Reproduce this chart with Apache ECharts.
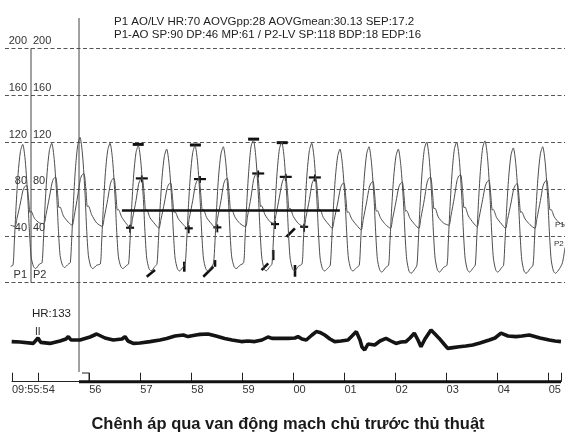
<!DOCTYPE html>
<html><head><meta charset="utf-8">
<script src="https://cdn.jsdelivr.net/npm/echarts@6/dist/echarts.min.js"></script>
<style>html,body{margin:0;padding:0;background:#fff}#c{width:565px;height:434px}</style>
</head><body><div id="c"></div>
<script>
// ---- data ----
const infoLine1 = 'P1 AO/LV HR:70 AOVGpp:28 AOVGmean:30.13 SEP:17.2';
const infoLine2 = 'P1-AO SP:90 DP:46 MP:61 / P2-LV SP:118 BDP:18 EDP:16';
const chartTitle = 'Chênh áp qua van động mạch chủ trước thủ thuật';
const hrLabel = 'HR:133';
const ecgLead = 'II';
const pressureTicks = [0, 40, 80, 120, 160, 200];
const startTime = 54.487;               // 09:55:54.x
const endTime = 65.241;
const tickTimes = [54.487, 55, 56, 57, 58, 59, 60, 61, 62, 63, 64, 65, 65.241];
const labelTimes = [54.487, 56, 57, 58, 59, 60, 61, 62, 63, 64, 65];
const cursorTime = 55.80;

// P1 – aortic pressure (mmHg), [time s, value]
const aoTrace = [
[54.46,49],
[54.544,48],[54.585,55],[54.652,68],[54.703,79],[54.737,82],[54.775,83],[54.815,70],[54.840,60],[54.860,61],[54.926,55],[55.024,51],
[55.112,50.5],[55.153,58],[55.220,73],[55.271,85],[55.305,89],[55.343,90],[55.383,75],[55.408,64],[55.428,64.5],[55.494,57],[55.592,51.5],
[55.666,49],[55.707,57],[55.774,74],[55.825,88],[55.859,92],[55.897,93],[55.937,78],[55.962,65],[55.982,65.5],[56.048,58],[56.146,51],
[56.254,48],[56.295,56],[56.362,71],[56.413,84],[56.447,88],[56.485,89],[56.525,74],[56.550,62],[56.570,62.5],[56.636,56],[56.734,50],
[56.808,46.5],[56.849,55],[56.916,70],[56.967,84],[57.001,88],[57.039,89],[57.079,74],[57.104,62],[57.124,62.5],[57.190,55.5],[57.288,50],
[57.364,46.5],[57.405,54],[57.472,68],[57.523,80],[57.557,84],[57.595,85],[57.635,71],[57.660,60],[57.680,60.5],[57.746,54.5],[57.844,49.5],
[57.919,46.5],[57.960,55],[58.027,70],[58.078,83],[58.112,87],[58.150,88],[58.190,73],[58.215,62],[58.235,62.5],[58.301,55.5],[58.399,50],
[58.473,46.5],[58.514,55],[58.581,70],[58.632,84],[58.666,88],[58.704,89],[58.744,74],[58.769,62],[58.789,62.5],[58.855,56],[58.953,50.5],
[59.061,47.7],[59.102,57],[59.169,73],[59.220,88],[59.254,92],[59.292,93],[59.332,78],[59.357,65],[59.377,65.5],[59.443,58],[59.541,52],
[59.617,50.6],[59.658,58],[59.725,73],[59.776,85],[59.810,89],[59.848,90],[59.888,75],[59.913,63],[59.933,63.5],[59.999,56.5],[60.097,50.5],
[60.205,47.7],[60.246,56],[60.313,71],[60.364,84.5],[60.398,88],[60.436,89.5],[60.476,74.5],[60.501,62],[60.521,62.5],[60.587,55.5],[60.685,50],
[60.759,46.4],[60.800,54],[60.867,68],[60.918,80],[60.952,84],[60.990,85],[61.030,71],[61.055,60],[61.075,60.5],[61.141,54.5],[61.239,49],
[61.327,45],[61.368,54],[61.435,69],[61.486,81.5],[61.520,85],[61.558,86.5],[61.598,72],[61.623,61],[61.643,61.5],[61.709,55],[61.807,49.5],
[61.901,46.4],[61.942,54.5],[62.009,69],[62.060,81],[62.094,84.5],[62.132,86],[62.172,71.5],[62.197,61],[62.217,61.5],[62.283,55],[62.381,49.5],
[62.457,46.4],[62.498,55.5],[62.565,71],[62.616,85],[62.650,89],[62.688,90],[62.728,75],[62.753,63],[62.773,63.5],[62.839,56],[62.937,51],
[63.045,49],[63.086,57],[63.153,73],[63.204,87],[63.238,91],[63.276,92],[63.316,77],[63.341,64],[63.361,64.5],[63.427,57],[63.525,51],
[63.599,47.7],[63.640,56],[63.707,71],[63.758,82.5],[63.792,86],[63.830,87.5],[63.870,73],[63.895,62],[63.915,62.5],[63.981,55.5],[64.079,50],
[64.154,46.4],[64.195,54],[64.262,68],[64.313,79.7],[64.347,83.2],[64.385,84.7],[64.425,70.5],[64.450,60],[64.470,60.5],[64.536,54.5],[64.634,49.5],
[64.730,46.4],[64.771,55],[64.838,70],[64.889,82.5],[64.923,86],[64.961,87.5],[65.001,73],[65.026,62],[65.046,62.5],[65.112,56],[65.210,51],
[65.32,49]
];

// P2 – left ventricular pressure (mmHg), [time s, value]
const lvTrace = [
[54.46,14],
[54.507,15],[54.532,34],[54.567,65],[54.607,93],[54.652,112],[54.697,118],[54.747,104],[54.797,72],[54.827,45],[54.862,22],[54.907,14],[54.947,12],[55.027,16],
[55.075,17],[55.100,34],[55.135,66],[55.175,94],[55.220,113],[55.265,119],[55.315,105],[55.365,73],[55.395,46],[55.430,23],[55.475,15],[55.515,13],[55.595,16],
[55.629,17],[55.654,35],[55.689,67],[55.729,97],[55.774,117],[55.819,124],[55.869,109],[55.919,75],[55.949,46],[55.984,23],[56.029,14],[56.069,12],[56.149,15],
[56.217,16],[56.242,34],[56.277,65],[56.317,94],[56.362,113],[56.407,119],[56.457,105],[56.507,72],[56.537,45],[56.572,22],[56.617,14],[56.657,12],[56.737,15],
[56.771,16],[56.796,33],[56.831,64],[56.871,92],[56.916,111],[56.961,117],[57.011,103],[57.061,71],[57.091,44],[57.126,21],[57.171,12],[57.211,10],[57.291,14],
[57.327,16],[57.352,33],[57.387,63],[57.427,90],[57.472,108],[57.517,114],[57.567,100],[57.617,70],[57.647,44],[57.682,21],[57.727,12],[57.767,10],[57.847,14],
[57.882,17],[57.907,34],[57.942,64],[57.982,92],[58.027,111],[58.072,117],[58.122,103],[58.172,71],[58.202,44],[58.237,21],[58.282,12],[58.322,10],[58.402,14],
[58.436,17],[58.461,33],[58.496,64],[58.536,92],[58.581,110],[58.626,116],[58.676,102],[58.726,71],[58.756,44],[58.791,22],[58.836,14],[58.876,12],[58.956,15],
[59.024,17],[59.049,35],[59.084,66],[59.124,95],[59.169,116],[59.214,122],[59.264,107],[59.314,74],[59.344,46],[59.379,22],[59.424,12],[59.464,10],[59.544,14],
[59.580,16],[59.605,34],[59.640,65],[59.680,94],[59.725,114],[59.770,120],[59.820,106],[59.870,73],[59.900,45],[59.935,21],[59.980,12],[60.020,10],[60.100,14],
[60.168,16],[60.193,34],[60.228,65],[60.268,94],[60.313,113],[60.358,119],[60.408,105],[60.458,72],[60.488,45],[60.523,21],[60.568,12],[60.608,10],[60.688,13],
[60.722,15],[60.747,33],[60.782,63],[60.822,90],[60.867,108],[60.912,114],[60.962,100],[61.012,70],[61.042,44],[61.077,21],[61.122,12],[61.162,10],[61.242,13],
[61.290,15],[61.315,33],[61.350,64],[61.390,91],[61.435,110],[61.480,116],[61.530,102],[61.580,71],[61.610,44],[61.645,20],[61.690,11],[61.730,9],[61.810,13],
[61.864,15],[61.889,33],[61.924,63],[61.964,90],[62.009,108],[62.054,114],[62.104,100],[62.154,70],[62.184,43],[62.219,20],[62.264,10],[62.304,8],[62.384,12],
[62.420,15],[62.445,34],[62.480,65],[62.520,94],[62.565,114],[62.610,120],[62.660,106],[62.710,73],[62.740,45],[62.775,21],[62.820,11],[62.860,9],[62.940,13],
[63.008,15],[63.033,34],[63.068,65],[63.108,94],[63.153,114],[63.198,120],[63.248,106],[63.298,73],[63.328,45],[63.363,21],[63.408,11],[63.448,9],[63.528,13],
[63.562,15],[63.587,34],[63.622,66],[63.662,95],[63.707,115],[63.752,121],[63.802,107],[63.852,73],[63.882,45],[63.917,21],[63.962,11],[64.002,9],[64.082,13],
[64.117,15],[64.142,33],[64.177,63],[64.217,90],[64.262,109],[64.307,115],[64.357,101],[64.407,70],[64.437,44],[64.472,20],[64.517,10],[64.557,8],[64.637,12],
[64.693,15],[64.718,33],[64.753,64],[64.793,91],[64.838,110],[64.883,116],[64.933,102],[64.983,71],[65.013,44],[65.048,20],[65.093,10],[65.133,8],[65.213,12],
[65.27,17],[65.32,30]
];

// measurement markers (mmHg)
const lvPeakMarks = [[56.96,118],[58.08,117.5],[59.22,122.5],[59.78,119.5]];
const aoPeakMarks = [[57.03,89],[58.17,88.4],[59.31,93.2],[59.85,90.3],[60.42,89.8]];
const aoMinMarks  = [[56.80,46.9],[57.95,46.4],[58.51,47.2],[59.64,50],[60.21,47.7]];
const edpMarks = [[57.126,5.1,57.288,10.8],[57.862,17.9,57.862,9.4],[58.234,5.1,58.430,13.6],[58.464,19.3,58.464,13.6],
                  [59.377,10.8,59.506,16.5],[59.604,27.9,59.604,19.3],[59.866,39.2,60.029,46.4],[60.031,15.1,60.031,5.1]];
const meanLine = [[56.64,61.6],[60.91,61.6]];

// ECG lead II (mV), [time s, value]
const ecgTrace = [
[54.481,-0.08],[54.644,-0.10],[54.904,-0.17],[54.996,0.10],[55.05,-0.12],[55.231,-0.17],[55.427,-0.05],[55.545,0.05],[55.590,0.17],[55.643,0],
[55.819,0],[56.015,0.15],[56.146,0.30],[56.309,0.10],[56.471,0],[56.642,0.05],[56.701,0.17],[56.759,-0.05],[56.863,-0.17],[56.994,-0.15],
[57.190,-0.08],[57.386,0],[57.517,0.08],[57.680,0.20],[57.843,0.25],[57.935,0.17],[58.091,0.25],[58.170,0.28],[58.326,0.30],[58.483,0.20],
[58.654,0.08],[58.797,0],[58.979,-0.08],[59.110,-0.05],[59.241,-0.08],[59.384,0],[59.502,0.15],[59.535,0.25],[59.580,0.08],[59.737,0.08],
[59.894,0.08],[60.031,0.10],[60.090,0.17],[60.168,0.05],[60.252,0],[60.364,0.25],[60.448,0.42],[60.520,0.38],[60.613,0.25],[60.716,0.05],
[60.809,-0.08],[60.932,-0.05],[61.069,0],[61.147,0.20],[61.232,0.42],[61.304,0],[61.343,-0.35],[61.396,-0.50],[61.461,-0.20],[61.592,-0.25],
[61.696,-0.05],[61.813,0.08],[61.911,-0.05],[62.009,-0.17],[62.107,-0.10],[62.205,-0.08],[62.283,0.10],[62.368,0.34],[62.440,0],[62.499,-0.34],
[62.577,0.05],[62.695,0.50],[62.773,0.30],[62.857,0.08],[62.949,-0.20],[63.022,-0.42],[63.125,-0.38],[63.249,-0.34],[63.380,-0.30],[63.512,-0.25],
[63.655,-0.15],[63.837,0],[63.949,0.10],[64.066,0.34],[64.203,0.20],[64.360,0.17],[64.477,0.20],[64.620,0.25],[64.830,0.10],[65.012,0],
[65.124,-0.05],[65.241,-0.08]
];

// ---- chart ----
const FONT = '"Liberation Sans", Arial, Helvetica, sans-serif';
const chart = echarts.init(document.getElementById('c'), null, {renderer:'canvas'});
function pad2(v){ const s = String(Math.round(v) % 60); return s.length < 2 ? '0' + s : s; }

function barItem(halfW, lw){
  return function(params, api){
    const p = api.coord([api.value(0), api.value(1)]);
    return {type:'line', shape:{x1:p[0]-halfW, y1:p[1], x2:p[0]+halfW, y2:p[1]}, style:{stroke:'#111', lineWidth:lw}};
  };
}
function crossItem(halfW, up, down){
  return function(params, api){
    const p = api.coord([api.value(0), api.value(1)]);
    return {type:'group', children:[
      {type:'line', shape:{x1:p[0]-halfW, y1:p[1], x2:p[0]+halfW, y2:p[1]}, style:{stroke:'#111', lineWidth:2.2}},
      {type:'line', shape:{x1:p[0], y1:p[1]-up, x2:p[0], y2:p[1]+down}, style:{stroke:'#111', lineWidth:1.8}}
    ]};
  };
}
function segItem(params, api){
  const a = api.coord([api.value(0), api.value(1)]);
  const b = api.coord([api.value(2), api.value(3)]);
  return {type:'line', shape:{x1:a[0], y1:a[1], x2:b[0], y2:b[1]}, style:{stroke:'#111', lineWidth:2.6}};
}

const labelStyle = {fontSize:11, color:'#333', fontFamily:FONT};
const option = {
  animation:false,
  backgroundColor:'#fff',
  grid:[
    {left:5, right:0, top:48.3, height:234.4},
    {left:5, right:0, top:320, height:40},
    {left:12, right:4, top:360, height:21.7}
  ],
  xAxis:[
    {gridIndex:0, type:'value', min:54.35, max:65.32, show:false},
    {gridIndex:1, type:'value', min:54.35, max:65.32, show:false},
    {gridIndex:2, type:'value', min:startTime, max:endTime,
      axisLine:{show:true, lineStyle:{color:'#222', width:1}},
      axisTick:{show:true, inside:true, length:9, customValues:tickTimes, lineStyle:{color:'#222', width:1}},
      axisLabel:Object.assign({customValues:labelTimes, align:'left', margin:3,
        formatter:function(v){ return v < 54.9 ? '09:55:54' : pad2(v); }}, labelStyle),
      splitLine:{show:false}}
  ],
  yAxis:[
    {gridIndex:0, type:'value', min:0, max:200, interval:40,
      axisLine:{show:false}, axisTick:{show:false},
      splitLine:{show:true, lineStyle:{type:[4,2.5], color:'#555', width:1}},
      axisLabel:Object.assign({inside:true, margin:22, align:'right', verticalAlign:'bottom', lineHeight:15,
        formatter:function(v){ return v === 0 ? 'P1' : String(v); }}, labelStyle)},
    {gridIndex:0, type:'value', min:0, max:200, interval:40, position:'left',
      axisLine:{show:false}, axisTick:{show:false}, splitLine:{show:false},
      axisLabel:Object.assign({inside:true, margin:28, align:'left', verticalAlign:'bottom', lineHeight:15,
        formatter:function(v){ return v === 0 ? 'P2' : String(v); }}, labelStyle)},
    {gridIndex:1, type:'value', min:-1, max:1, show:false},
    {gridIndex:2, type:'value', min:0, max:1, show:false}
  ],
  series:[
    {name:'P1 AO', type:'line', xAxisIndex:0, yAxisIndex:0, data:aoTrace, showSymbol:false, silent:true,
      smooth:0.25, lineStyle:{color:'#4d4d4d', width:1}},
    {name:'P2 LV', type:'line', xAxisIndex:0, yAxisIndex:1, data:lvTrace, showSymbol:false, silent:true,
      smooth:0.25, lineStyle:{color:'#4d4d4d', width:1}},
    {type:'line', xAxisIndex:0, yAxisIndex:0, data:meanLine, showSymbol:false, silent:true,
      lineStyle:{color:'#111', width:2.5}},
    {type:'custom', xAxisIndex:0, yAxisIndex:1, data:lvPeakMarks, renderItem:barItem(5.5, 3), silent:true},
    {type:'custom', xAxisIndex:0, yAxisIndex:0, data:aoPeakMarks, renderItem:crossItem(6, 3, 4), silent:true},
    {type:'custom', xAxisIndex:0, yAxisIndex:0, data:aoMinMarks, renderItem:crossItem(4, 3, 5), silent:true},
    {type:'custom', xAxisIndex:0, yAxisIndex:1, data:edpMarks, renderItem:segItem, silent:true},
    {name:'ECG II', type:'line', xAxisIndex:1, yAxisIndex:2, data:ecgTrace, showSymbol:false, silent:true,
      lineStyle:{color:'#141414', width:3.6}},
    {type:'line', xAxisIndex:2, yAxisIndex:3, data:[[cursorTime,0],[endTime,0]], showSymbol:false, silent:true, clip:false,
      lineStyle:{color:'#111', width:3}}
  ]
};
chart.setOption(option);

const cx = chart.convertToPixel({xAxisIndex:0}, cursorTime);
const divX = chart.convertToPixel({xAxisIndex:0}, 54.35) + 26;
const topY = chart.convertToPixel({yAxisIndex:0}, 200);
const botY = chart.convertToPixel({yAxisIndex:0}, 0);
chart.setOption({graphic:[
  {type:'line', shape:{x1:divX, y1:topY, x2:divX, y2:botY}, style:{stroke:'#444', lineWidth:1}, silent:true},
  {type:'line', shape:{x1:cx, y1:18, x2:cx, y2:372}, style:{stroke:'#444', lineWidth:1}, silent:true},
  {type:'polyline', shape:{points:[[cx+3,373],[cx+10,373],[cx+10,381]]}, style:{stroke:'#222', lineWidth:1, fill:null}, silent:true},
  {type:'text', x:114, y:22, style:{text:infoLine1, font:'11.5px ' + FONT, fill:'#222', textVerticalAlign:'middle'}},
  {type:'text', x:114, y:34.5, style:{text:infoLine2, font:'11.5px ' + FONT, fill:'#222', textVerticalAlign:'middle'}},
  {type:'text', x:32, y:313.5, style:{text:hrLabel, font:'11.5px ' + FONT, fill:'#222', textVerticalAlign:'middle'}},
  {type:'text', x:35, y:332, style:{text:ecgLead, font:'10px ' + FONT, fill:'#222', textVerticalAlign:'middle'}},
  {type:'text', x:555, y:225, style:{text:'P1', font:'8px ' + FONT, fill:'#333', textVerticalAlign:'middle'}},
  {type:'text', x:554, y:244, style:{text:'P2', font:'8px ' + FONT, fill:'#333', textVerticalAlign:'middle'}},
  {type:'text', x:288, y:424, style:{text:chartTitle, font:'bold 16.5px ' + FONT, fill:'#1a1a1a', textAlign:'center', textVerticalAlign:'middle'}}
]});
</script></body></html>
